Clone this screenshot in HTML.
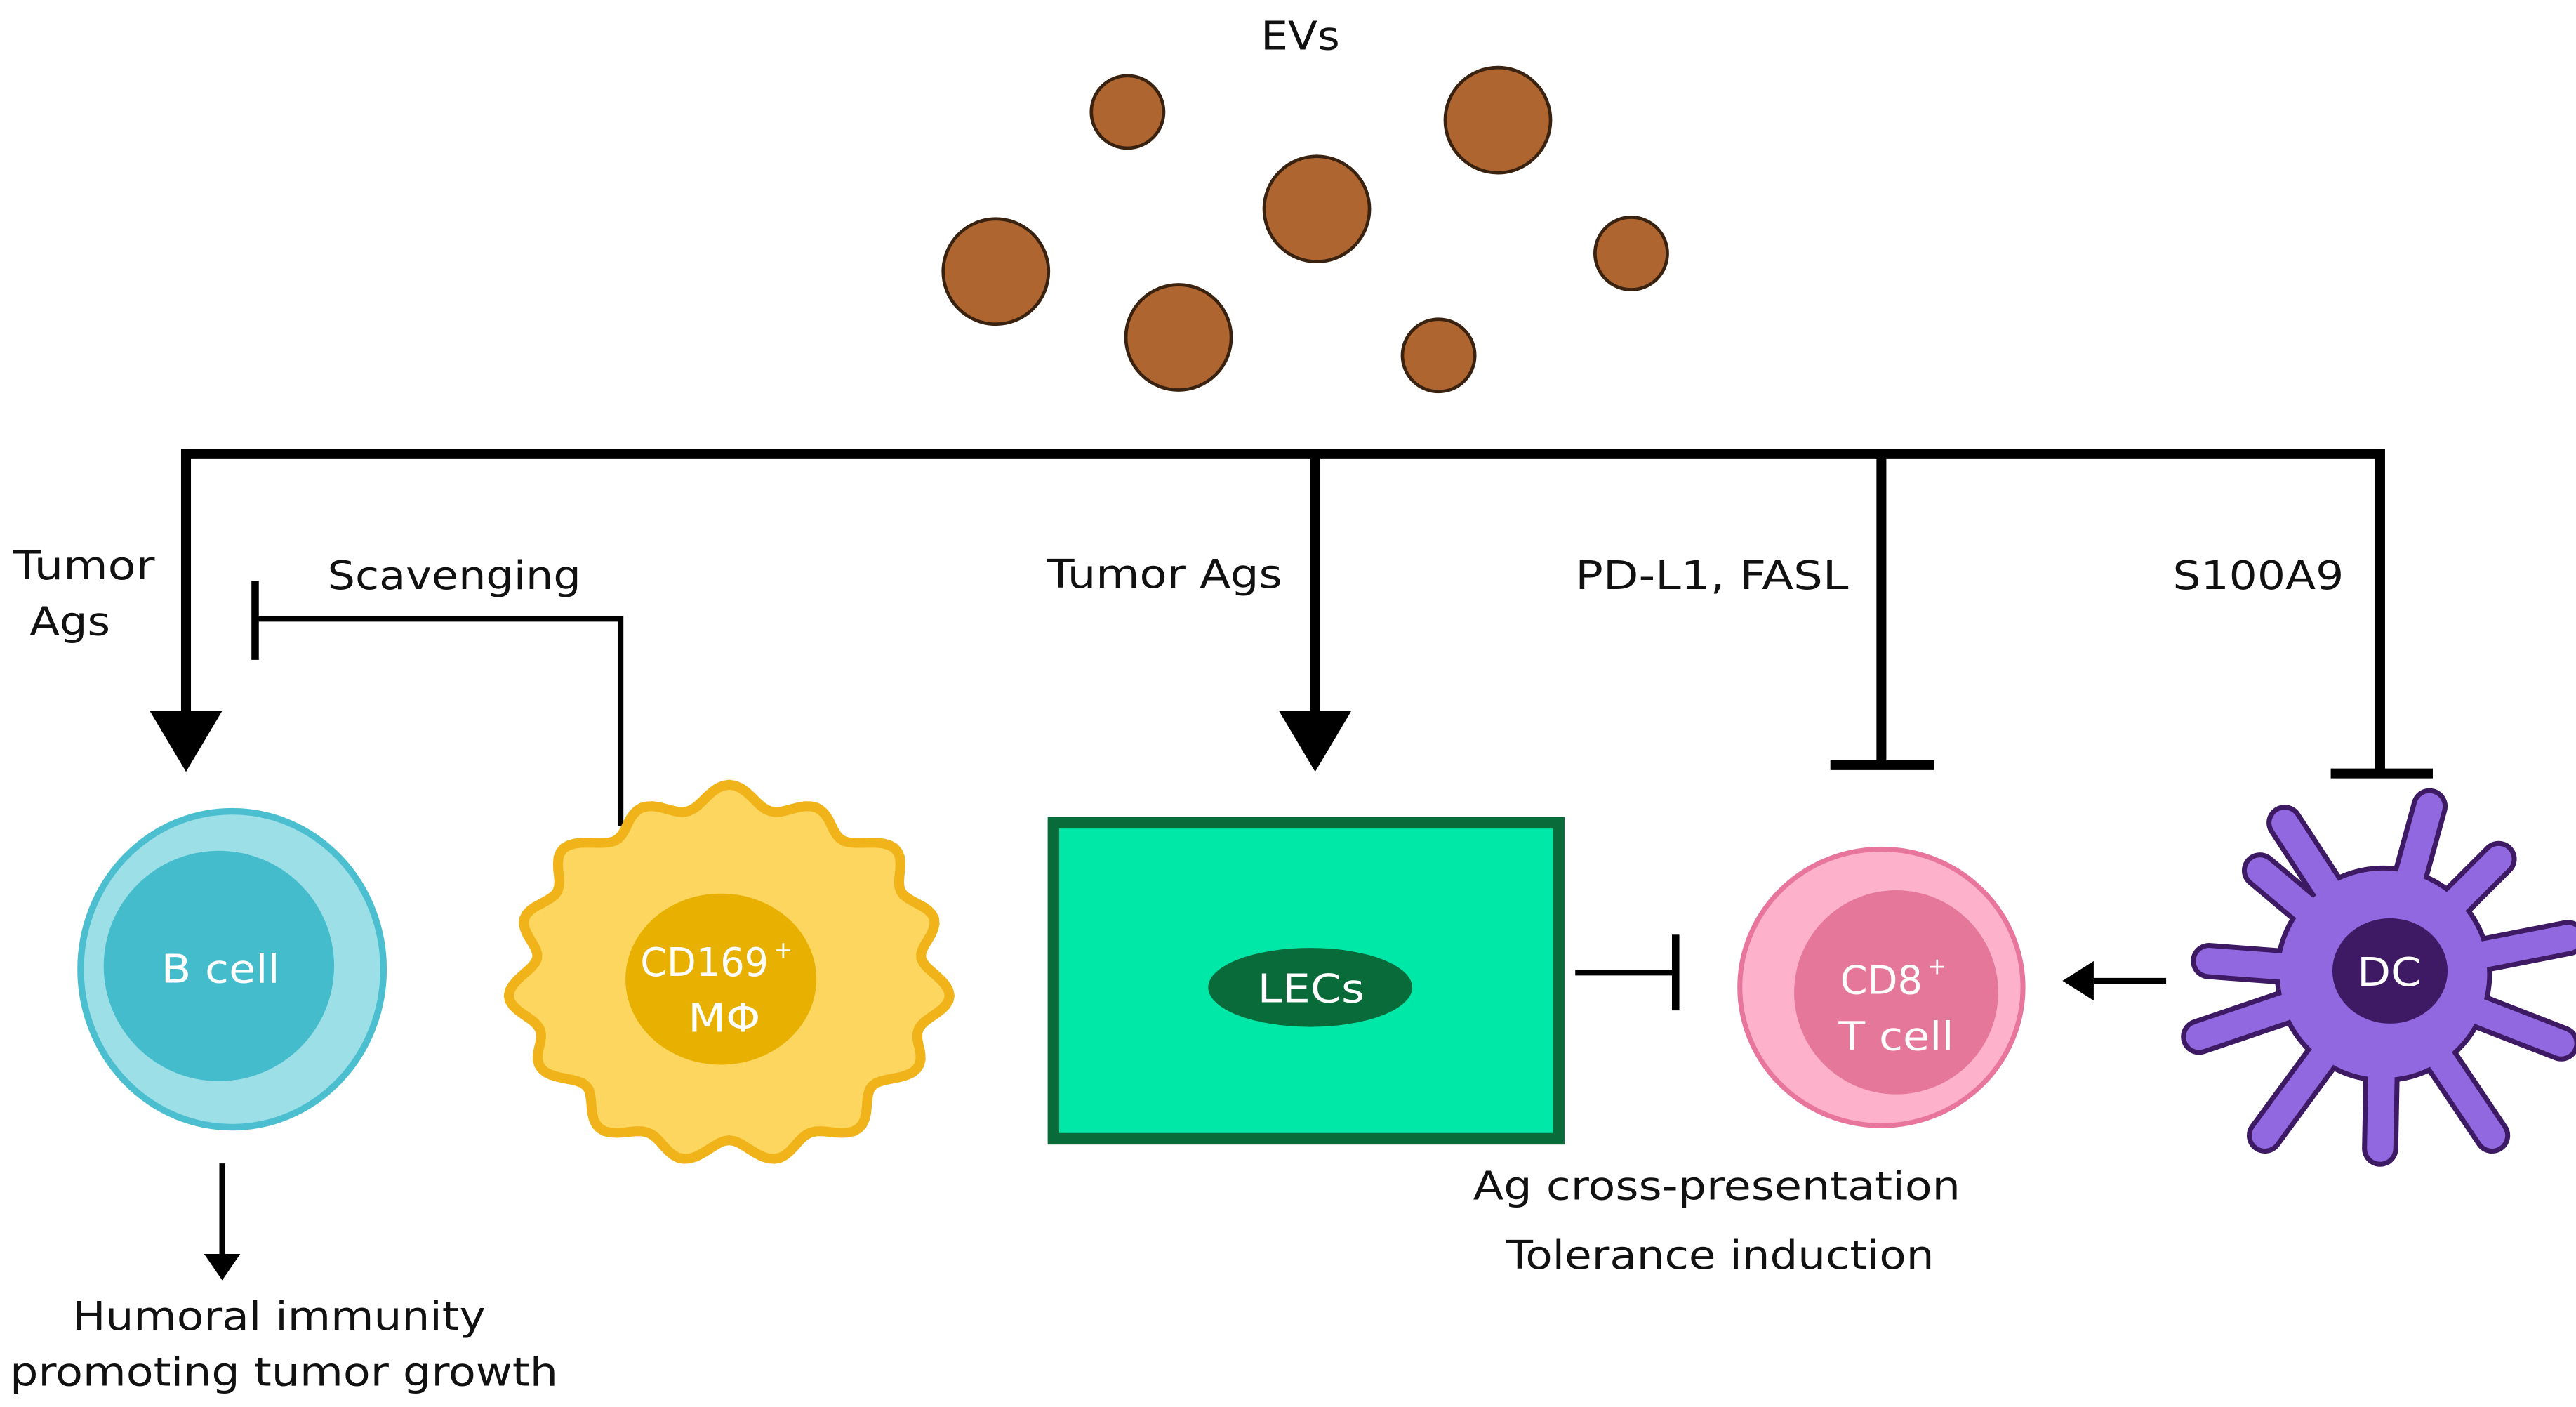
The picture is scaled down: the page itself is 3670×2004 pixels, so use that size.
<!DOCTYPE html>
<html><head><meta charset="utf-8"><style>
html,body{margin:0;padding:0;background:#fff;}
svg{display:block;}
text{font-family:"DejaVu Sans","Liberation Sans",sans-serif;}
</style></head><body>
<svg id="s" width="3670" height="2004" viewBox="0 0 1565 855" preserveAspectRatio="none" xmlns="http://www.w3.org/2000/svg">
<rect width="1565" height="855" fill="#fff"/>
<text x="766" y="30" font-size="24" fill="#111" textLength="48" lengthAdjust="spacingAndGlyphs">EVs</text>
<g fill="#ae6530" stroke="#3a2210" stroke-width="2">
<circle cx="685" cy="68" r="22"/><circle cx="910" cy="73" r="32"/><circle cx="800" cy="127" r="32"/>
<circle cx="605" cy="165" r="32"/><circle cx="991" cy="154" r="22"/><circle cx="716" cy="205" r="32"/>
<circle cx="874" cy="216" r="22"/></g>
<g stroke="#000" stroke-width="6" fill="none">
<path d="M113 276 H1447"/>
<path d="M113 273 V436"/><path d="M799 276 V436"/>
<path d="M1143 276 V465"/><path d="M1112 465 H1175"/>
<path d="M1446 273 V470"/><path d="M1416 470 H1478"/>
</g>
<polygon points="91,432 135,432 113,469" fill="#000"/>
<polygon points="777,432 821,432 799,469" fill="#000"/>
<g stroke="#000" stroke-width="3.5" fill="none">
<path d="M377 502 V376 H155"/><path d="M155 353 V401" stroke-width="4.5"/>
<path d="M135 707 V766"/><path d="M957 591 H1018"/><path d="M1018 568 V614" stroke-width="4.5"/>
<path d="M1316 596 H1272"/>
</g>
<polygon points="124,762 146,762 135,778" fill="#000"/>
<polygon points="1272,584 1272,608 1253,596" fill="#000"/>
<g font-size="24" fill="#111" lengthAdjust="spacingAndGlyphs">
<text x="8" y="352" textLength="86" lengthAdjust="spacingAndGlyphs">Tumor</text>
<text x="18" y="386" textLength="49" lengthAdjust="spacingAndGlyphs">Ags</text>
<text x="199" y="358" textLength="154" lengthAdjust="spacingAndGlyphs">Scavenging</text>
<text x="636" y="357" textLength="143" lengthAdjust="spacingAndGlyphs">Tumor Ags</text>
<text x="957" y="358" textLength="166" lengthAdjust="spacingAndGlyphs">PD-L1, FASL</text>
<text x="1320" y="358" textLength="104" lengthAdjust="spacingAndGlyphs">S100A9</text>
<text x="895" y="729" textLength="296" lengthAdjust="spacingAndGlyphs">Ag cross-presentation</text>
<text x="915" y="771" textLength="260" lengthAdjust="spacingAndGlyphs">Tolerance induction</text>
<text x="44" y="808" textLength="251" lengthAdjust="spacingAndGlyphs">Humoral immunity</text>
<text x="6" y="842" textLength="333" lengthAdjust="spacingAndGlyphs">promoting tumor growth</text>
</g>
<ellipse cx="141" cy="589" rx="92" ry="96" fill="#9ddfe6" stroke="#4bbfcf" stroke-width="4"/>
<circle cx="133" cy="587" r="70" fill="#45bccc"/>
<text x="98" y="597" font-size="24" fill="#fff" textLength="72" lengthAdjust="spacingAndGlyphs">B cell</text>
<path id="mac" fill="#fdd65f" stroke="#f0b31a" stroke-width="6"/>
<ellipse cx="438" cy="595" rx="58" ry="52" fill="#e8b000"/>
<text x="389" y="593" font-size="24" fill="#fff" textLength="78" lengthAdjust="spacingAndGlyphs">CD169</text>
<text x="470" y="582" font-size="14" fill="#fff">+</text>
<text x="418" y="627" font-size="24" fill="#fff" textLength="44" lengthAdjust="spacingAndGlyphs">MΦ</text>
<rect x="640" y="500" width="307" height="192" fill="#00e8a8" stroke="#0a6b3a" stroke-width="7"/>
<ellipse cx="796" cy="600" rx="62" ry="24" fill="#0a6b3a"/>
<text x="764" y="609" font-size="24" fill="#fff" textLength="65" lengthAdjust="spacingAndGlyphs">LECs</text>
<ellipse cx="1143" cy="600" rx="86" ry="84" fill="#fdb1cb" stroke="#e8759c" stroke-width="3"/>
<circle cx="1152" cy="603" r="62" fill="#e5779a"/>
<text x="1118" y="604" font-size="24" fill="#fff" textLength="50" lengthAdjust="spacingAndGlyphs">CD8</text>
<text x="1171" y="592" font-size="14" fill="#fff">+</text>
<text x="1117" y="638" font-size="24" fill="#fff" textLength="70" lengthAdjust="spacingAndGlyphs">T cell</text>
<g id="dc"></g>
<ellipse cx="1452" cy="590" rx="35" ry="32" fill="#3d1a63"/>
<text x="1432" y="599" font-size="24" fill="#fff" textLength="39" lengthAdjust="spacingAndGlyphs">DC</text>
</svg>
<script>
(function(){
var cx=443,cy=593,rx=126,ry=108,d="";
for(var i=0;i<=240;i++){var t=i/240*2*Math.PI;var m=1+0.055*Math.sin(15*t)+0.02*Math.sin(7*t);
var x=cx+rx*m*Math.cos(t),y=cy+ry*m*Math.sin(t);d+=(i?"L":"M")+x.toFixed(1)+" "+y.toFixed(1);}
document.getElementById("mac").setAttribute("d",d+"Z");
var c=[1448,592],tips=[[1476,490],[1388,500],[1373,529],[1342,584],[1336,630],[1376,690],[1446,698],[1514,690],[1556,634],[1560,570],[1518,522]];
var g=document.getElementById("dc"),h="";
function arms(col,w){tips.forEach(function(p){h+='<line x1="'+c[0]+'" y1="'+c[1]+'" x2="'+p[0]+'" y2="'+p[1]+'" stroke="'+col+'" stroke-width="'+w+'" stroke-linecap="round"/>';});}
arms("#3d1a63",22);h+='<circle cx="'+c[0]+'" cy="'+c[1]+'" r="66" fill="#3d1a63"/>';
arms("#9168e0",16);h+='<circle cx="'+c[0]+'" cy="'+c[1]+'" r="63" fill="#9168e0"/>';
g.innerHTML=h;
})();
</script>
</body></html>
